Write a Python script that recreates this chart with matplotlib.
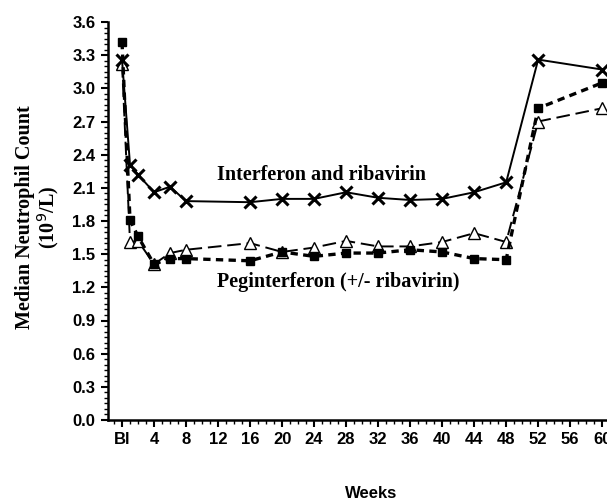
import numpy as np
import matplotlib.pyplot as plt
from matplotlib.ticker import MultipleLocator

# weeks (0 = baseline)
weeks = [0, 1, 2, 4, 6, 8, 16, 20, 24, 28, 32, 36, 40, 44, 48, 52, 60]
# interferon and ribavirin (x markers, solid)
ifn_rbv = [3.26, 2.31, 2.22, 2.06, 2.11, 1.98, 1.97, 2.00, 2.00, 2.06, 2.01, 1.99, 2.00, 2.06, 2.15, 3.26, 3.17]
# peginterferon (filled squares, short dashes)
peg_sq = [3.42, 1.81, 1.66, 1.41, 1.46, 1.46, 1.44, 1.52, 1.48, 1.51, 1.51, 1.54, 1.52, 1.46, 1.45, 2.82, 3.05]
# peginterferon (open triangles, long dashes)
peg_tri = [3.22, 1.61, 1.62, 1.41, 1.51, 1.54, 1.60, 1.52, 1.56, 1.62, 1.57, 1.57, 1.61, 1.69, 1.61, 2.70, 2.82]

xtick_pos = list(range(0, 61, 4))
xtick_lab = ['Bl'] + [str(w) for w in range(4, 61, 4)]

fig = plt.figure(figsize=(6.07, 5.03), dpi=100)
ax = fig.add_axes([108/607, 1-420/503, 1-108/607, (420-22)/503])

ax.plot(weeks, peg_tri, color='black', lw=1.4, ls=(0, (7, 3)), marker='^',
        mfc='white', mec='black', ms=8, mew=1.0)
ax.plot(weeks, peg_sq, color='black', lw=2.4, ls=(0, (2.2, 1.6)), marker='s',
        mfc='black', mec='black', ms=6)
ax.plot(weeks, ifn_rbv, color='black', lw=1.4, ls='-', marker='x',
        ms=9, mew=2.2)

ax.set_xlim(-1.75, 60.6)
ax.set_ylim(0, 3.6)
ax.set_xticks(xtick_pos)
ax.set_xticklabels(xtick_lab)
ax.xaxis.set_minor_locator(MultipleLocator(1))
ax.set_yticks(np.arange(0, 3.61, 0.3))
ax.set_yticklabels(['%.1f' % v for v in np.arange(0, 3.61, 0.3)])
ax.yaxis.set_minor_locator(MultipleLocator(0.05))

for lab in ax.get_xticklabels() + ax.get_yticklabels():
    lab.set_family('Liberation Sans')
    lab.set_fontweight('bold')
    lab.set_fontsize(12)

ax.tick_params(which='major', length=5, width=1.5, direction='out', pad=4)
ax.tick_params(which='minor', length=3, width=1.0, direction='out')
ax.spines['top'].set_visible(False)
ax.spines['right'].set_visible(False)
ax.spines['left'].set_linewidth(1.8)
ax.spines['bottom'].set_linewidth(1.8)

ax.text(24.9, 2.22, 'Interferon and ribavirin', family='Liberation Serif',
        fontweight='bold', fontsize=14.5, ha='center', va='center')
ax.text(27.0, 1.25, 'Peginterferon (+/- ribavirin)', family='Liberation Serif',
        fontweight='bold', fontsize=14.5, ha='center', va='center')

fig.text(25/607, 1-217/503, 'Median Neutrophil Count', family='Liberation Serif',
         fontweight='bold', fontsize=14.5, rotation=90, ha='center', va='center')
fig.text(48/607, 1-217/503, '(10$^{9}$/L)', family='Liberation Serif',
         fontweight='bold', fontsize=14.5, rotation=90, ha='center', va='center')
fig.text(371/607, 1-493/503, 'Weeks', family='Liberation Sans',
         fontweight='bold', fontsize=12, ha='center', va='center')

fig.savefig('out.png', dpi=100)
